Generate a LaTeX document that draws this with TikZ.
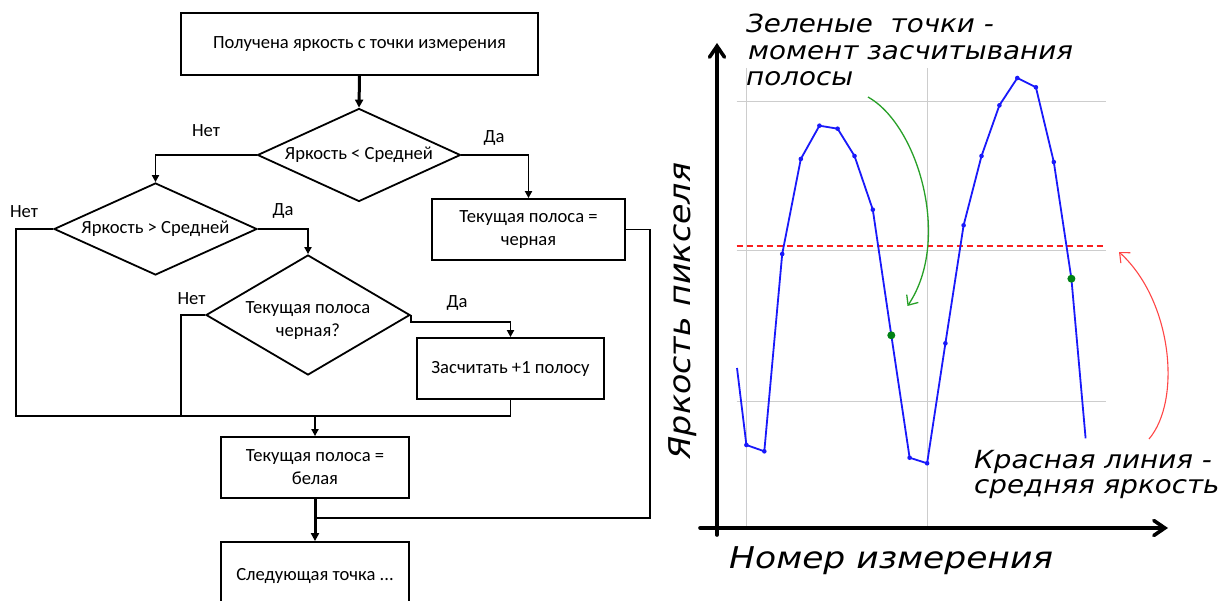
\documentclass[tikz,border=0pt]{standalone}
\usepackage{fontspec}
\setmainfont{Carlito}
\newfontfamily\annfont[FakeStretch=1.11]{DejaVu Sans}
\newfontfamily\axisfont[FakeStretch=1.15]{DejaVu Sans}
\usetikzlibrary{shapes.geometric,arrows.meta}
\definecolor{plotblue}{RGB}{25,25,250}
\definecolor{dotgreen}{RGB}{0,130,20}
\definecolor{arrowgreen}{RGB}{40,160,40}
\definecolor{gridgray}{RGB}{205,205,205}
\definecolor{meanred}{RGB}{250,30,30}
\definecolor{notered}{RGB}{255,70,70}

\begin{document}
\begin{tikzpicture}[x=1pt,y=-1pt,
  boxfont/.style={font=\fontsize{18.6}{23}\selectfont},
  procbox/.style={draw, line width=1.8pt, rectangle, inner sep=0pt, align=center, boxfont},
  decision/.style={draw, line width=1.8pt, diamond, inner sep=0pt},
  decisiontext/.style={boxfont, align=center, inner sep=0pt},
  branch/.style={boxfont},
  flow/.style={line width=1.8pt},
  link/.style={line width=1.8pt, -{Triangle[length=7pt,width=7pt]}},
  mainlink/.style={line width=3pt, -{Triangle[length=8pt,width=8pt]}},
  gridline/.style={draw=gridgray, line width=1pt},
  axisline/.style={line width=3.6pt, line cap=round, -{Straight Barb[length=11pt,width=15pt,line cap=round]}},
  plotline/.style={draw=plotblue, line width=1.8pt, line join=round},
  meanline/.style={draw=meanred, line width=1.8pt, dash pattern=on 6pt off 4pt},
  annot/.style={font=\annfont\itshape\fontsize{25}{27}\selectfont, anchor=base west, inner sep=0pt},
  axislabel/.style={font=\axisfont\itshape\fontsize{30}{32}\selectfont, inner sep=0pt},
  yaxislabel/.style={font=\annfont\itshape\fontsize{30}{32}\selectfont, inner sep=0pt, rotate=90},
]
\useasboundingbox (0,0) rectangle (1220,601);
\fill[white] (0,0) rectangle (1220,601);

% ---------- flowchart ----------
\node[procbox, minimum width=357pt, minimum height=62pt] (start) at (359.5,44) {Получена яркость с точки измерения};

\node[decision, minimum width=203pt, minimum height=93pt] (dless) at (359,155) {};
\node[decisiontext] (dlesstext) at (359,155) {Яркость < Средней};

\node[decision, minimum width=203pt, minimum height=92pt] (dmore) at (155.5,229) {};
\node[decisiontext] (dmoretext) at (155.5,229) {Яркость > Средней};

\node[procbox, minimum width=193pt, minimum height=61pt] (black) at (528.5,229.5) {Текущая полоса =\\черная};

\node[decision, minimum width=204pt, minimum height=120pt] (dblack) at (308,315) {};
\node[decisiontext] (dblacktext) at (308,321) {Текущая полоса\\черная?};

\node[procbox, minimum width=187pt, minimum height=61pt] (count) at (510.5,368.5) {Засчитать +1 полосу};
\node[procbox, minimum width=188pt, minimum height=61pt] (white) at (315,467.5) {Текущая полоса =\\белая};
\node[procbox, minimum width=188pt, minimum height=68pt] (next) at (315,576) {Следующая точка ...};

% branch labels
\node[branch] (no1) at (206,131) {Нет};
\node[branch] (yes1) at (494,138) {Да};
\node[branch] (no2) at (24,212) {Нет};
\node[branch] (yes2) at (283,211) {Да};
\node[branch] (no3) at (191.5,299) {Нет};
\node[branch] (yes3) at (457,302.5) {Да};

% junction points of the merging lines
\coordinate (railL) at (16,416);
\coordinate (railNo3) at (181,416);
\coordinate (railMid) at (315,416);
\coordinate (railR) at (510.5,416);
\coordinate (loopB) at (650,518);
\coordinate (joinB) at (315,518);

\draw[mainlink] (start.south) -- (dless.north);
\draw[link] (dless.west) -| (dmore.north);
\draw[link] (dless.east) -| (black.north);
\draw[link] (dmore.east) -| (dblack.north);
\draw[flow] (dmore.west) -| (railL) -- (railR);
\draw[flow] (dblack.west) -| (railNo3);
\draw[link] (dblack.east) -- ++(0,7) -| (count.north);
\draw[flow] (count.south) -- (railR);
\draw[link] (railMid) -- (white.north);
\draw[flow] (black.east) -| (loopB) -- (joinB);
\draw[mainlink] (white.south) -- (next.north);

% ---------- plot ----------
\draw[gridline] (746.4,68) -- (746.4,528);
\draw[gridline] (927.1,68) -- (927.1,528);
\draw[gridline] (736.5,102) -- (1106,102);
\draw[gridline] (736.5,251) -- (1106,251);
\draw[gridline] (736.5,401) -- (1106,401);
\draw[meanline] (736.5,246) -- (1106,246);

\draw[plotline] plot coordinates {(737,368) (746.4,445) (764.3,451.3) (782.2,254) (800.8,159)
  (819.4,125.7) (837.6,128.7) (854.5,156) (872.8,209.7) (891.3,335.3) (909.6,457.7)
  (927.1,463.3) (945.4,343.3) (963.6,225.3) (981.5,156) (999.4,105.3) (1017.3,78)
  (1035.9,87.3) (1053.8,162) (1071.4,278.7) (1085.6,438.3)};
\foreach \px/\py in {746.4/445, 764.3/451.3, 782.2/254, 800.8/159, 819.4/125.7, 837.6/128.7,
  854.5/156, 872.8/209.7, 909.6/457.7, 927.1/463.3, 945.4/343.3, 963.6/225.3, 981.5/156,
  999.4/105.3, 1017.3/78, 1035.9/87.3, 1053.8/162}
  \fill[plotblue] (\px,\py) circle (2.3pt);
\fill[dotgreen] (891.3,335.3) circle (4pt);
\fill[dotgreen] (1071.4,278.7) circle (4pt);

% axes
\draw[axisline] (700,528) -- (1168,528);
\draw[axisline] (717,535) -- (717,43);

% axis titles
\node[yaxislabel] (ylab) at (683,311) {Яркость пикселя};
\node[axislabel, anchor=base west] (xlab) at (729,568) {Номер измерения};

% annotations
\node[annot] (green1) at (746,33) {Зеленые\ \ точки -};
\node[annot] (green2) at (748,60) {момент засчитывания};
\node[annot] (green3) at (746,86) {полосы};
\node[annot] (red1) at (974,468) {Красная линия -};
\node[annot] (red2) at (974,493) {средняя яркость};

\draw[arrowgreen, line width=1.3pt, -{Straight Barb[length=8pt,width=14pt]}]
  (868,97) .. controls (918,125) and (952,240) .. (907.5,306);
\draw[notered, line width=1.1pt, -{Straight Barb[length=8pt,width=14pt]}]
  (1149,439) .. controls (1182,400) and (1172,300) .. (1119,252);
\end{tikzpicture}
\end{document}
